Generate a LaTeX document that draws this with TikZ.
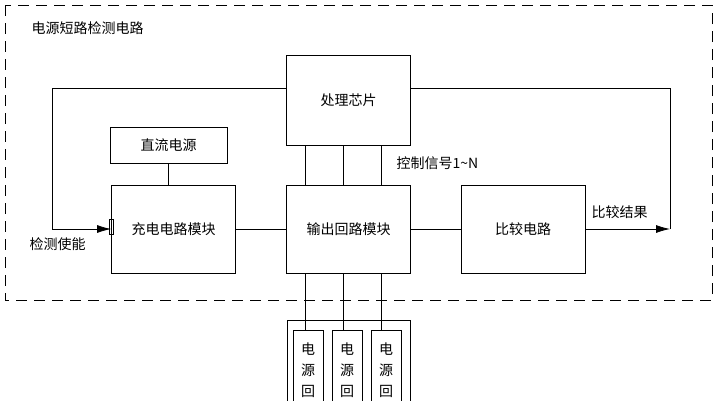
\documentclass[tikz,border=0pt]{standalone}
\usepackage{fontspec}
\setmainfont{Noto Sans CJK SC}
\usetikzlibrary{positioning,arrows.meta}
\tikzset{
  blk/.style={draw, thick, minimum width=124pt, minimum height=88pt, inner sep=0pt},
  link/.style={thick},
  sig/.style={thick, -{Latex[length=14pt,width=8pt]}}
}
\begin{document}
\begin{tikzpicture}[x=1pt, y=-1pt, font=\fontsize{14}{21}\selectfont]
\useasboundingbox (0,0) rectangle (718,400);
\draw[thick, dash pattern=on 11pt off 7pt] (5,5) rectangle (712,300);
\node[anchor=west] (title) at (28,28) {电源短路检测电路};
% boxes
\node[blk, minimum height=90pt] (chip) at (348.5,100) {处理芯片};
\node[blk] (output) at (348.5,229) {输出回路模块};
\node[blk] (charge) at (173.5,229) {充电电路模块};
\node[blk] (compare) at (523,229) {比较电路};
\node[draw, thick, minimum width=117pt, minimum height=36pt] (dc) at (168.5,145) {直流电源};
% connections
\draw[link] (dc) -- (dc|-charge.north);
\draw[link] (charge) -- (output);
\draw[link] (output) -- (compare);
\foreach \x in {305,343,381}
  \draw[link] (\x,145) -- (\x,185);
\node[anchor=west] (ctrl) at (393,163) {控制信号1\textasciitilde N};
% loop
\coordinate (lc) at (52,88);
\coordinate (rc) at (670,88);
\draw[link] (chip.west|-lc) -- (lc) -- (lc|-charge);
\draw[sig] (lc|-charge) -- (charge.west);
\draw[thick] (109,219) rectangle (113,234);
\node[anchor=north west] (en) at (26,234) {检测使能};
\draw[sig] (compare.east) -- (rc|-compare);
\draw[link] (rc|-compare) -- (rc) -- (chip.east|-rc);
\node[anchor=south west] (res) at (588,222) {比较结果};
% power loops
\draw[thick] (287,320) rectangle (410,420);
\foreach \x/\n in {308/a,347/b,386/c} {
  \node[draw, thick, minimum width=30pt, minimum height=90pt, anchor=north, align=center, inner sep=2pt, text depth=-10pt] (pw\n) at (\x,330) {};
  \node[anchor=north, align=center, inner sep=0pt] at (\x,343) {电\\源\\回};
}
\foreach \x/\n in {305/a,343/b,381/c}
  \draw[link] (\x,273) -- (\x,330);
\end{tikzpicture}
\end{document}
